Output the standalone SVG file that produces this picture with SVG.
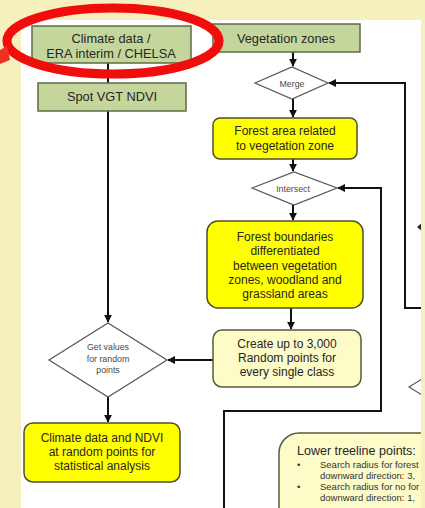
<svg xmlns="http://www.w3.org/2000/svg" width="425" height="508" viewBox="0 0 425 508">
<defs>
<style>
.bg{fill:#f5f0bd}
.panel{fill:#ffffff}
.green{fill:#c4d69b;stroke:#5f6b47;stroke-width:1.5}
.yel{fill:#ffff00;stroke:#4f4f30;stroke-width:1.5}
.lyel{fill:#fdfbc8;stroke:#5a5a40;stroke-width:1.5}
.dia{fill:#ffffff;stroke:#555555;stroke-width:1.2}
.t{font-family:"Liberation Sans","Noto Sans",sans-serif;font-size:12px;fill:#262626;text-anchor:middle}
.tg{font-family:"Liberation Sans","Noto Sans",sans-serif;font-size:12.8px;fill:#262626;text-anchor:middle}
.ts{font-family:"Liberation Sans","Noto Sans",sans-serif;font-size:8.8px;fill:#4a4a4a;text-anchor:middle}
.tl{font-family:"Liberation Sans","Noto Sans",sans-serif;font-size:12.5px;fill:#262626}
.tb{font-family:"Liberation Sans","Noto Sans",sans-serif;font-size:9.5px;fill:#333333}
.c{fill:none;stroke:#111111;stroke-width:2}
</style>
<marker id="ah" viewBox="0 0 10 10" refX="9" refY="5" markerWidth="4" markerHeight="4" orient="auto" markerUnits="strokeWidth">
<path d="M0,0 L10,5 L0,10 z" fill="#111111"/>
</marker>
<clipPath id="pc"><rect x="21" y="20" width="400" height="488"/></clipPath>
</defs>
<rect class="bg" x="0" y="0" width="425" height="508"/>
<rect class="panel" x="21" y="20" width="400" height="488"/>
<g clip-path="url(#pc)">
<g id="connectors">
<line class="c" x1="108" y1="63" x2="108" y2="83"/>
<line class="c" x1="108" y1="111" x2="108" y2="322" marker-end="url(#ah)"/>
<line class="c" x1="293" y1="52" x2="293" y2="66" marker-end="url(#ah)"/>
<line class="c" x1="293" y1="99" x2="293" y2="117" marker-end="url(#ah)"/>
<line class="c" x1="293" y1="159" x2="293" y2="171" marker-end="url(#ah)"/>
<line class="c" x1="293" y1="205" x2="293" y2="220" marker-end="url(#ah)"/>
<line class="c" x1="291" y1="308" x2="291" y2="329" marker-end="url(#ah)"/>
<line class="c" x1="213" y1="360" x2="168" y2="360" marker-end="url(#ah)"/>
<line class="c" x1="108" y1="397" x2="108" y2="422" marker-end="url(#ah)"/>
<polyline class="c" points="425,308 405,308 405,83 329,83" marker-end="url(#ah)"/>
<polyline class="c" points="224,510 224,411 381,411 381,188 338,188" marker-end="url(#ah)"/>
<path d="M417,227 L422,223 L422,231 z" fill="#222222"/>
</g>
<g id="climate"><rect class="green" x="32" y="26" width="159" height="37"/>
<text class="tg" x="111" y="43">Climate data /</text><text class="tg" x="111" y="58">ERA interim / CHELSA</text></g>
<g id="spot"><rect class="green" x="38" y="83" width="148" height="28"/>
<text class="tg" x="112" y="101">Spot VGT NDVI</text></g>
<g id="vegzones"><rect class="green" x="213" y="24" width="147" height="28"/>
<text class="tg" x="286" y="43">Vegetation zones</text></g>
<g id="merge"><polygon class="dia" points="255,83 292,67 328,83 292,99"/>
<text class="ts" x="292" y="86.5">Merge</text></g>
<g id="forestarea"><rect class="yel" x="213" y="118" width="144" height="41" rx="7"/>
<text class="t" x="285" y="135">Forest area related</text><text class="t" x="285" y="150">to vegetation zone</text></g>
<g id="intersect"><polygon class="dia" points="252,188 294,172 337,188 294,205"/>
<text class="ts" x="293" y="191.5">Intersect</text></g>
<g id="boundaries"><rect class="yel" x="207" y="221" width="156" height="87" rx="11"/>
<text class="t" x="285" y="241">Forest boundaries</text>
<text class="t" x="285" y="255">differentiated</text>
<text class="t" x="285" y="269.5">between vegetation</text>
<text class="t" x="285" y="284">zones, woodland and</text>
<text class="t" x="285" y="298">grassland areas</text></g>
<g id="create"><rect class="lyel" x="213" y="330" width="148" height="57" rx="9"/>
<text class="t" x="287" y="348">Create up to 3,000</text>
<text class="t" x="287" y="362">Random points for</text>
<text class="t" x="287" y="376">every single class</text></g>
<g id="getvalues"><polygon class="dia" points="49,360 108,323 167,360 108,397"/>
<text class="ts" x="108" y="350">Get values</text>
<text class="ts" x="108" y="362">for random</text>
<text class="ts" x="108" y="373">points</text></g>
<g id="result"><rect class="yel" x="24" y="423" width="156" height="59" rx="9"/>
<text class="t" x="102" y="442">Climate data and NDVI</text>
<text class="t" x="102" y="456">at random points for</text>
<text class="t" x="102" y="470">statistical analysis</text></g>
<g id="rightdiamond"><polygon class="dia" points="409,387 440,368 471,387 440,406"/></g>
<g id="lowertreeline"><rect class="lyel" x="279" y="433" width="200" height="120" rx="20"/>
<text class="tl" x="297" y="455">Lower treeline points:</text>
<text class="tb" x="297" y="468">•</text><text class="tb" x="320" y="468">Search radius for forest</text>
<text class="tb" x="320" y="479">downward direction: 3,</text>
<text class="tb" x="297" y="490">•</text><text class="tb" x="320" y="490">Search radius for no for</text>
<text class="tb" x="320" y="501">downward direction: 1,</text></g>
</g>
<g id="annotation">
<ellipse cx="113" cy="41" rx="106" ry="33" fill="none" stroke="#f20d0d" stroke-width="9"/>
<polygon points="0,50 7,46 10,60 0,64" fill="#ee3322"/>
</g>
</svg>
